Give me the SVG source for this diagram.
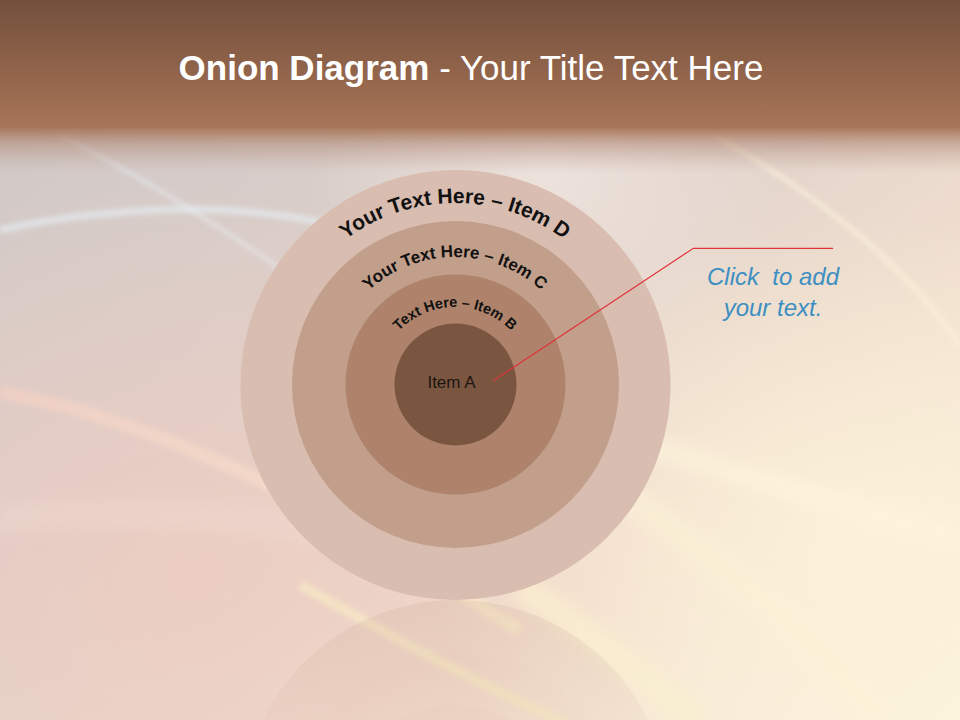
<svg xmlns="http://www.w3.org/2000/svg" width="960" height="720" viewBox="0 0 960 720">
<defs>
  <linearGradient id="bgBase" x1="0" y1="0" x2="1" y2="1">
    <stop offset="0" stop-color="#cec7c6"/>
    <stop offset="0.4" stop-color="#dccfca"/>
    <stop offset="0.7" stop-color="#f1dfcf"/>
    <stop offset="1" stop-color="#fcf4df"/>
  </linearGradient>
  <radialGradient id="pinkGlow" cx="0.2" cy="0.8" r="0.55">
    <stop offset="0" stop-color="#efcbbf" stop-opacity="0.75"/>
    <stop offset="1" stop-color="#efcbbf" stop-opacity="0"/>
  </radialGradient>
  <radialGradient id="lightGlow" cx="0.57" cy="0.25" r="0.25">
    <stop offset="0" stop-color="#f1e6e0" stop-opacity="0.8"/>
    <stop offset="1" stop-color="#f1e6e0" stop-opacity="0"/>
  </radialGradient>
  <radialGradient id="creamGlow" cx="0.9" cy="0.75" r="0.45">
    <stop offset="0" stop-color="#fdf3da" stop-opacity="0.8"/>
    <stop offset="1" stop-color="#fdf3da" stop-opacity="0"/>
  </radialGradient>
  <linearGradient id="header" x1="0" y1="0" x2="0" y2="1">
    <stop offset="0" stop-color="#73503c"/>
    <stop offset="0.5" stop-color="#8e6249"/>
    <stop offset="1" stop-color="#a87558"/>
  </linearGradient>
  <linearGradient id="headerFade" x1="0" y1="0" x2="0" y2="1">
    <stop offset="0" stop-color="#a87558" stop-opacity="0.95"/>
    <stop offset="0.35" stop-color="#b08875" stop-opacity="0.55"/>
    <stop offset="1" stop-color="#c0a59a" stop-opacity="0"/>
  </linearGradient>
  <linearGradient id="peach" x1="0" y1="0" x2="1" y2="0">
    <stop offset="0" stop-color="#f4d0c4"/>
    <stop offset="0.6" stop-color="#f8e0cc"/>
    <stop offset="1" stop-color="#fbedc6"/>
  </linearGradient>
  <filter id="soft" filterUnits="userSpaceOnUse" x="-50" y="-50" width="1060" height="820">
    <feGaussianBlur stdDeviation="2.5"/>
  </filter>
  <filter id="softer" filterUnits="userSpaceOnUse" x="-50" y="-50" width="1060" height="820">
    <feGaussianBlur stdDeviation="7"/>
  </filter>
  <linearGradient id="reflFade" x1="0" y1="0" x2="0" y2="1">
    <stop offset="0" stop-color="#fff" stop-opacity="1"/>
    <stop offset="1" stop-color="#fff" stop-opacity="0.4"/>
  </linearGradient>
  <mask id="reflMask" maskUnits="userSpaceOnUse" x="0" y="0" width="960" height="720">
    <rect x="0" y="600" width="960" height="120" fill="url(#reflFade)"/>
  </mask>
  <path id="arcD" d="M273,385 A182,182 0 0 1 637,385"/>
  <path id="arcC" d="M327,385 A128,128 0 0 1 583,385"/>
  <path id="arcB" d="M377,385 A78,78 0 0 1 533,385"/>
</defs>
<style>
  .ring { stroke: none; }
  .arc { font-family: "Liberation Sans", Arial, sans-serif; font-weight: bold; fill: #111; }
  .title { font-family: "Liberation Sans", Arial, sans-serif; fill: #ffffff; font-size: 35px; }
  .callout { font-family: "Liberation Sans", Arial, sans-serif; font-style: italic; font-size: 24px; fill: #3d8fc2; }
  .conn { fill: none; stroke: #e0343a; stroke-width: 1.2; }
</style>

<!-- background -->
<g id="background">
  <rect x="0" y="0" width="960" height="720" fill="url(#bgBase)"/>
  <rect x="0" y="0" width="960" height="720" fill="url(#pinkGlow)"/>
  <rect x="0" y="0" width="960" height="720" fill="url(#lightGlow)"/>
  <rect x="0" y="0" width="960" height="720" fill="url(#creamGlow)"/>
  <!-- swooshes -->
  <path d="M0,230 C100,208 220,200 330,224" fill="none" stroke="#e4ecf1" stroke-width="7" opacity="0.7" filter="url(#soft)"/>
  <path d="M60,135 C130,170 210,220 290,275" fill="none" stroke="#e8eef2" stroke-width="4" opacity="0.6" filter="url(#soft)"/>
  <path d="M0,392 C140,418 270,480 380,545 C440,580 470,600 520,630" fill="none" stroke="url(#peach)" stroke-width="13" opacity="0.7" filter="url(#soft)"/>
  <path d="M300,585 C380,630 470,680 570,725" fill="none" stroke="#f8eac4" stroke-width="10" opacity="0.7" filter="url(#soft)"/>
  <path d="M520,585 C580,630 640,670 700,725" fill="none" stroke="#fbf0cf" stroke-width="28" opacity="0.7" filter="url(#softer)"/>
  <path d="M715,135 C800,185 900,255 960,345" fill="none" stroke="#fbf1da" stroke-width="4" opacity="0.85" filter="url(#soft)"/>
  <path d="M540,412 C700,465 850,505 960,540" fill="none" stroke="#fff6de" stroke-width="22" opacity="0.55" filter="url(#softer)"/>
  <path d="M600,480 C720,560 820,640 880,720" fill="none" stroke="#fdf3d6" stroke-width="30" opacity="0.5" filter="url(#softer)"/>
  <path d="M0,520 C120,505 250,515 360,540" fill="none" stroke="#f2dcd2" stroke-width="30" opacity="0.35" filter="url(#softer)"/>
  <!-- header band -->
  <rect x="0" y="0" width="960" height="128" fill="url(#header)"/>
  <rect x="0" y="128" width="960" height="45" fill="url(#headerFade)"/>
</g>

<!-- reflection -->
<g id="reflection" mask="url(#reflMask)" opacity="0.22">
  <circle cx="455.5" cy="815" r="215" fill="#c8a796"/>
  <circle cx="455.5" cy="815" r="163.5" fill="#c29e8a"/>
  <circle cx="455.5" cy="815" r="110" fill="#ae8169"/>
</g>

<!-- title -->
<g id="title">
  <text class="title" x="471" y="80" text-anchor="middle"><tspan font-weight="bold">Onion Diagram</tspan> - Your Title Text Here</text>
</g>

<!-- onion rings -->
<g id="ring-d">
  <circle class="ring" cx="455.5" cy="385" r="215" fill="#d8bdb0" stroke="#c9a999" stroke-width="0.8"/>
  <text class="arc" font-size="21"><textPath href="#arcD" startOffset="50%" text-anchor="middle">Your Text Here – Item D</textPath></text>
</g>
<g id="ring-c">
  <circle class="ring" cx="455.5" cy="384.5" r="163.5" fill="#c29f8b"/>
  <text class="arc" font-size="17"><textPath href="#arcC" startOffset="50%" text-anchor="middle">Your Text Here – Item C</textPath></text>
</g>
<g id="ring-b">
  <circle class="ring" cx="455.5" cy="384.5" r="110" fill="#af836b"/>
  <text class="arc" font-size="14.5"><textPath href="#arcB" startOffset="50%" text-anchor="middle">Text Here – Item B</textPath></text>
</g>
<g id="ring-a">
  <circle class="ring" cx="455.5" cy="384.5" r="61" fill="#7a5641"/>
  <text x="451.5" y="387.5" text-anchor="middle" font-family="'Liberation Sans', Arial, sans-serif" font-size="17" fill="#1e1510">Item A</text>
</g>

<!-- connectors -->
<g id="connectors">
  <polyline class="conn" points="493.3,380.7 693.3,248.3 833,248.3"/>
</g>

<!-- callout -->
<g id="callout">
  <text class="callout" x="773" y="285" text-anchor="middle" xml:space="preserve">Click  to add</text>
  <text class="callout" x="773" y="316" text-anchor="middle">your text.</text>
</g>
</svg>
